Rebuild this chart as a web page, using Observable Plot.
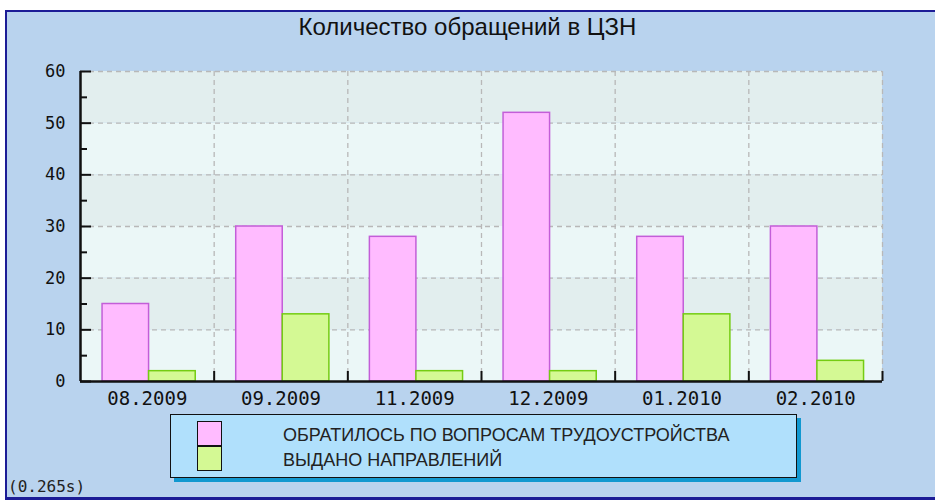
<!DOCTYPE html>
<html>
<head>
<meta charset="utf-8">
<script src="https://cdn.jsdelivr.net/npm/d3@7"></script>
<script src="https://cdn.jsdelivr.net/npm/@observablehq/plot@0.6"></script>
<style>
  html, body { margin: 0; padding: 0; background: #ffffff; }
  #chart { position: relative; width: 935px; height: 502px; overflow: hidden; background: #ffffff; }
  #frame { position: absolute; left: 5px; top: 10px; width: 940px; height: 485px; background: #b9d3ee;
           border-top: 2px solid #1c1c96; border-left: 2px solid #1c1c96; border-bottom: 3px solid #1c1c96; }
  #title { position: absolute; left: 0; top: 13px; width: 935px; text-align: center;
           font-family: "Liberation Sans", Arial, sans-serif; font-size: 24px; color: #111; }
  #plot { position: absolute; left: 0; top: 0; }
  #legend { position: absolute; left: 170px; top: 414px; width: 625px; height: 62px; background: #b0e0fc;
            border: 1.5px solid #111; box-shadow: 4px 4px 0 #1198d0; }
  .sw { position: absolute; left: 26px; width: 23px; height: 23px; border: 1.5px solid #111; }
  .lt { position: absolute; left: 112px; font-family: "Liberation Sans", Arial, sans-serif; font-size: 18px; color: #222; white-space: nowrap; }
  #timing { position: absolute; left: 8px; top: 477px; font-family: "DejaVu Sans Mono", monospace; font-size: 16px; color: #222; }
</style>
</head>
<body>
<div id="chart">
  <div id="frame"></div>
  <div id="plot"></div>
  <div id="title"></div>
  <div id="legend"></div>
  <div id="timing"></div>
</div>
<script>
// ---- data ----
const title = "Количество обращений в ЦЗН";
const months = ["08.2009", "09.2009", "11.2009", "12.2009", "01.2010", "02.2010"];
const applied = [15, 30, 28, 52, 28, 30];      // ОБРАТИЛОСЬ ПО ВОПРОСАМ ТРУДОУСТРОЙСТВА
const referrals = [2, 13, 2, 2, 13, 4];         // ВЫДАНО НАПРАВЛЕНИЙ
const seriesNames = ["ОБРАТИЛОСЬ ПО ВОПРОСАМ ТРУДОУСТРОЙСТВА", "ВЫДАНО НАПРАВЛЕНИЙ"];
const yMajor = [0, 10, 20, 30, 40, 50, 60];
const yMinor = [5, 15, 25, 35, 45, 55];
const timing = "(0.265s)";

// ---- styles ----
const pinkFill = "#ffbbff", pinkStroke = "#c35ed8";
const greenFill = "#d4f994", greenStroke = "#74cc12";
const gridColor = "#b8b8b8";
const barStart = 0.165, barMid = 0.513, barEnd = 0.862; // fractions of each month slot

const rows = months.map((m, i) => ({month: m, i, applied: applied[i], referrals: referrals[i]}));
const bands = yMajor.slice(0, -1).map((lo, k) => ({lo, hi: yMajor[k + 1], dark: k % 2 === 1}));
const bounds = d3.range(1, months.length + 1);
const centers = months.map((m, i) => i + 0.5);

const monoFont = "'DejaVu Sans Mono', monospace";

const plot = Plot.plot({
  width: 935,
  height: 502,
  marginLeft: 80,
  marginRight: 53,
  marginTop: 71,
  marginBottom: 121,
  style: {background: "transparent", overflow: "visible"},
  x: {domain: [0, months.length], axis: null},
  y: {domain: [0, 60], axis: null},
  marks: [
    Plot.rect(bands.filter(b => b.dark), {x1: 0, x2: months.length, y1: "lo", y2: "hi", fill: "#e2eeee"}),
    Plot.rect(bands.filter(b => !b.dark), {x1: 0, x2: months.length, y1: "lo", y2: "hi", fill: "#ebf7f7"}),
    Plot.ruleY(yMajor.filter(v => v > 0), {stroke: gridColor, strokeWidth: 1.3, strokeDasharray: "5,4"}),
    Plot.ruleX(bounds, {stroke: gridColor, strokeWidth: 1.3, strokeDasharray: "5,4"}),
    Plot.rect(rows, {x1: d => d.i + barStart, x2: d => d.i + barMid, y1: 0, y2: "applied",
      fill: pinkFill, stroke: pinkStroke, strokeWidth: 1.5}),
    Plot.rect(rows, {x1: d => d.i + barMid, x2: d => d.i + barEnd, y1: 0, y2: "referrals",
      fill: greenFill, stroke: greenStroke, strokeWidth: 1.5}),
    Plot.ruleX([0], {stroke: "#111", strokeWidth: 2.5}),
    Plot.ruleY([0], {stroke: "#111", strokeWidth: 2.5}),
    Plot.axisY({ticks: yMajor, tickSize: 11, dx: 11, tickPadding: 15, stroke: "#111", strokeWidth: 2,
      fontSize: 17, fontFamily: monoFont, fill: "#111", tickFormat: d => String(d)}),
    Plot.axisY({ticks: yMinor, tickSize: 7, dx: 7, stroke: "#111", strokeWidth: 2, tickFormat: () => ""}),
    Plot.axisX({ticks: bounds, tickSize: 10, dy: -10, stroke: "#111", strokeWidth: 2, tickFormat: () => ""}),
    Plot.axisX({ticks: centers, tickSize: 0, tickPadding: 10, fontSize: 19, fontFamily: monoFont, fill: "#111",
      tickFormat: v => months[Math.floor(v)]})
  ]
});
document.getElementById("plot").appendChild(plot);

document.getElementById("title").textContent = title;
document.getElementById("timing").textContent = timing;

const legend = document.getElementById("legend");
[[pinkFill, 6], [greenFill, 31]].forEach(([c, top], k) => {
  const s = document.createElement("div");
  s.className = "sw";
  s.style.top = top + "px";
  s.style.background = c;
  legend.appendChild(s);
  const t = document.createElement("div");
  t.className = "lt";
  t.style.top = (k === 0 ? 10 : 35) + "px";
  t.textContent = seriesNames[k];
  legend.appendChild(t);
});
</script>
</body>
</html>
